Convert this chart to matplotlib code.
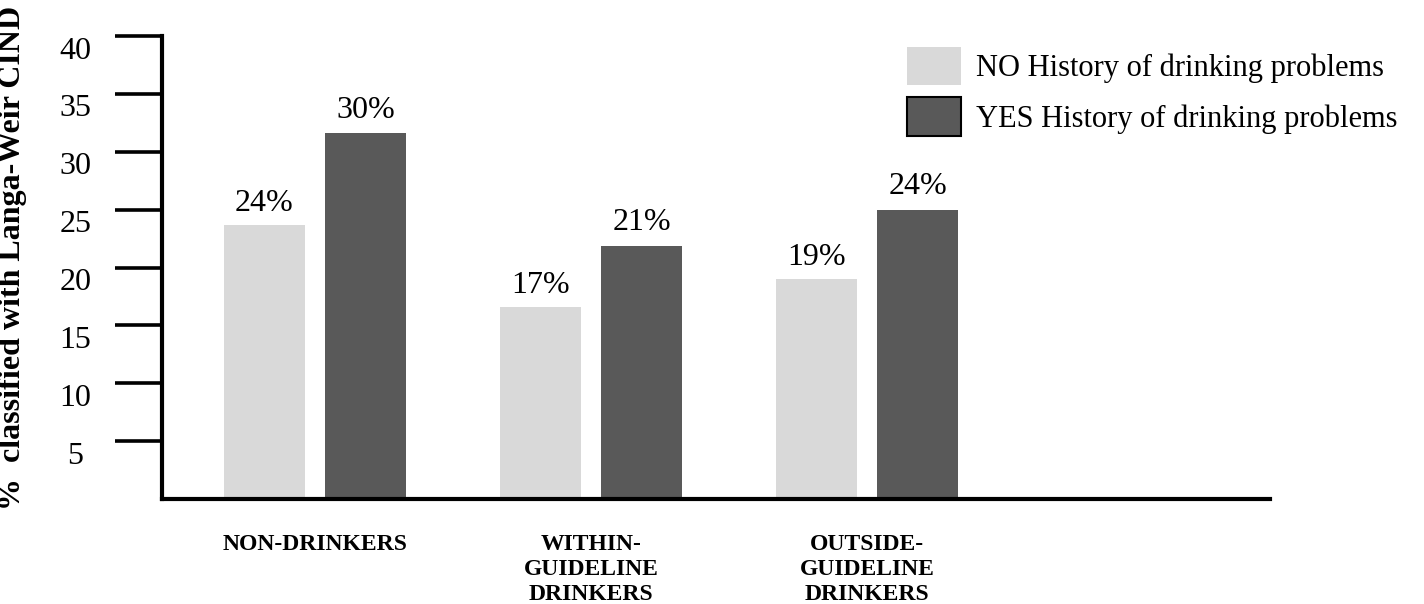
import matplotlib.pyplot as plt
import matplotlib.transforms as mtransforms
from matplotlib.patches import Patch
import numpy as np

plt.rcParams['font.family'] = ['Liberation Serif', 'DejaVu Serif']

categories = ['NON-DRINKERS', 'WITHIN-\nGUIDELINE\nDRINKERS', 'OUTSIDE-\nGUIDELINE\nDRINKERS']
no_history = [23.7, 16.6, 19.0]
yes_history = [31.6, 21.9, 25.0]
no_labels = ['24%', '17%', '19%']
yes_labels = ['30%', '21%', '24%']
yticks = [5, 10, 15, 20, 25, 30, 35, 40]
series_names = ['NO History of drinking problems', 'YES History of drinking problems']

light = '#d9d9d9'
dark = '#595959'

fig = plt.figure(figsize=(14.24, 6.04), dpi=100)
ax = fig.add_axes([162 / 1424, 1 - 499 / 604, (1270 - 162) / 1424, (499 - 36) / 604])

x = np.arange(len(categories))
w = 0.293
off = 0.183
ax.bar(x - off, no_history, w, color=light)
ax.bar(x + off, yes_history, w, color=dark)

for i in range(len(categories)):
    ax.annotate(no_labels[i], (x[i] - off, no_history[i]), xytext=(0, 5),
                textcoords='offset points', ha='center', va='bottom', fontsize=23)
    ax.annotate(yes_labels[i], (x[i] + off, yes_history[i]), xytext=(0, 6),
                textcoords='offset points', ha='center', va='bottom', fontsize=23)

ax.set_xlim(-0.554, 3.46)
ax.set_ylim(0, 40)

for s in ['top', 'right']:
    ax.spines[s].set_visible(False)
ax.spines['left'].set_linewidth(3)
ax.spines['bottom'].set_linewidth(3)

ax.set_yticks(yticks)
ax.set_yticklabels([])
ax.tick_params(axis='y', direction='out', length=34, width=2.6)
trans = mtransforms.blended_transform_factory(ax.transAxes, ax.transData)
for v in yticks:
    ax.text(-0.078, v - 1.3, str(v), transform=trans, ha='center', va='center', fontsize=23)

ax.set_xticks(x)
ax.set_xticklabels(categories, fontsize=17, fontweight='bold', linespacing=1.25)
ax.tick_params(axis='x', length=0, pad=25)

fig.text(13 / 1424, 1 - 258 / 604, '%  classified with Langa-Weir CIND', rotation=90,
         ha='center', va='center', fontsize=23, fontweight='bold')

handles = [Patch(facecolor=light, edgecolor='none'),
           Patch(facecolor=dark, edgecolor='black', linewidth=1.5)]
fig.legend(handles, series_names, loc='upper left',
           bbox_to_anchor=(907 / 1424, 1 - 47 / 604), frameon=False, fontsize=22,
           borderpad=0, borderaxespad=0, handlelength=1.76, handleheight=1.56,
           handletextpad=0.49, labelspacing=0.39)

fig.savefig('out.png', dpi=100)
